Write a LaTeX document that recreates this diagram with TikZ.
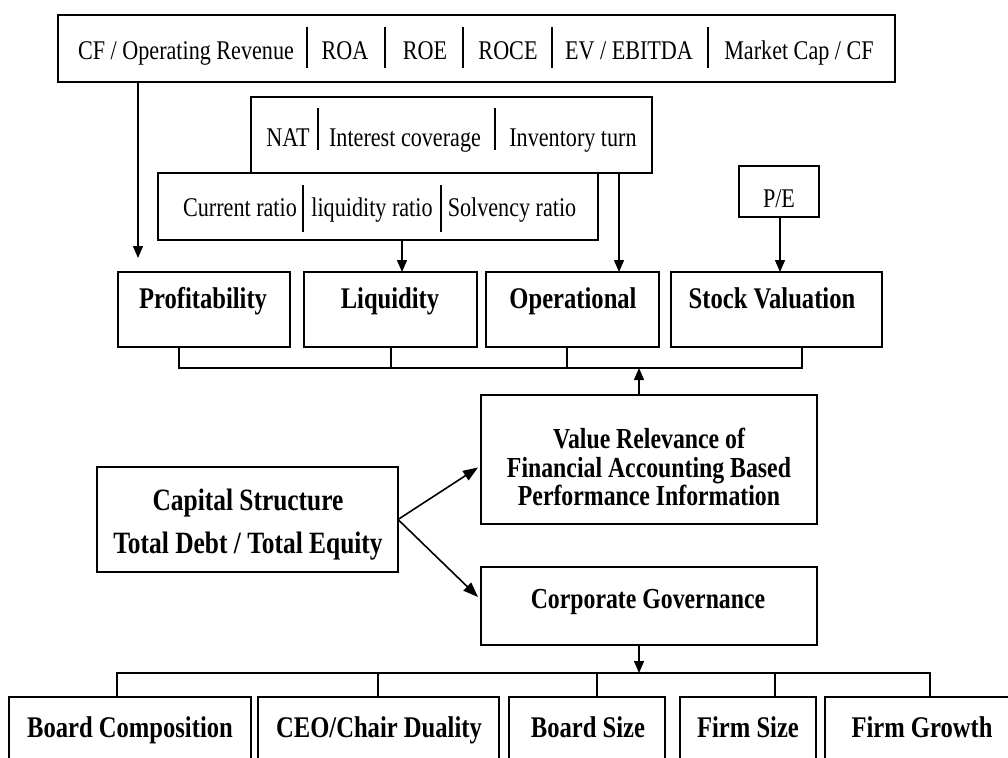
\documentclass[tikz,border=0pt]{standalone}
\usepackage{fontspec}
\setmainfont{Liberation Serif}[FakeStretch=0.82]
\usetikzlibrary{arrows.meta,fit}
\begin{document}
\begin{tikzpicture}[x=1pt,y=-1pt,
  box/.style={draw,line width=1.6pt,inner sep=0pt,outer sep=0pt},
  rtxt/.style={inner sep=0pt,anchor=base,font=\fontsize{27}{29}\selectfont},
  btxt/.style={inner sep=0pt,anchor=base,font=\fontsize{30}{30}\selectfont\bfseries},
  ctxt/.style={inner sep=0pt,anchor=base,font=\fontsize{31}{31}\selectfont\bfseries},
  sepline/.style={line width=1.3pt},
  conn/.style={line width=1.4pt},
  arr/.style={conn,-{Triangle[length=12pt,width=10pt]}},
  bigarr/.style={line width=1.6pt,-{Triangle[length=15pt,width=11pt]}}]
\useasboundingbox (0,0) rectangle (1008,757);
\clip (0,0) rectangle (1008,757);

% ---- top box
\node[box,fit={(58,15)(895,82)}] (top) {};
\node[rtxt] (t1) at (186,60) {CF / Operating Revenue};
\node[rtxt] (t2) at (345,60) {ROA};
\node[rtxt] (t3) at (425,60) {ROE};
\node[rtxt] (t4) at (508,60) {ROCE};
\node[rtxt] (t5) at (629,60) {EV / EBITDA};
\node[rtxt] (t6) at (799,60) {Market Cap / CF};
\foreach \x in {307,385,463,552,708} \draw[sepline] (\x,27) -- (\x,68);

% ---- NAT box
\node[box,fit={(251,97)(652,173)}] (nat) {};
\node[rtxt] (n1) at (288,146) {NAT};
\node[rtxt] (n2) at (405,146) {Interest coverage};
\node[rtxt] (n3) at (573,146) {Inventory turn};
\foreach \x in {318,495} \draw[sepline] (\x,108) -- (\x,150);

% ---- current ratio box
\node[box,fit={(158,173)(598,240)}] (cur) {};
\node[rtxt] (c1) at (240,216) {Current ratio};
\node[rtxt] (c2) at (372,216) {liquidity ratio};
\node[rtxt] (c3) at (512,216) {Solvency ratio};
\foreach \x in {303,441} \draw[sepline] (\x,185) -- (\x,232);

% ---- P/E box
\node[box,fit={(739,166)(819,217)}] (pe) {};
\node[rtxt] (pet) at (779,207) {P/E};

% ---- row of categories
\node[box,fit={(118,272)(290,347)}] (prof) {};
\node[box,fit={(304,272)(477,347)}] (liq) {};
\node[box,fit={(486,272)(659,347)}] (oper) {};
\node[box,fit={(671,272)(882,347)}] (stock) {};
\node[btxt] (proft) at (203,308) {Profitability};
\node[btxt] (liqt) at (390,308) {Liquidity};
\node[btxt] (opert) at (573,308) {Operational};
\node[btxt] (stockt) at (772,308) {Stock Valuation};

% ---- arrows into the row
\coordinate (pa) at (138,258);
\coordinate (xl) at (402,0);
\coordinate (xo) at (619,0);
\coordinate (xs) at (780,0);
\draw[arr] (top.south -| pa) -- (pa);
\draw[arr] (cur.south -| xl) -- (liq.north -| xl);
\draw[arr] (nat.south -| xo) -- (oper.north -| xo);
\draw[arr] (pe.south -| xs) -- (stock.north -| xs);

% ---- bracket under the row
\coordinate (b1) at (179,368);
\coordinate (b2) at (391,368);
\coordinate (b3) at (567,368);
\coordinate (b4) at (802,368);
\coordinate (b5) at (639,368);
\draw[conn] (prof.south -| b1) -- (b1) -- (b4) -- (stock.south -| b4);
\draw[conn] (liq.south -| b2) -- (b2);
\draw[conn] (oper.south -| b3) -- (b3);

% ---- middle boxes
\node[box,fit={(481,395)(817,524)}] (vr) {};
\node[btxt,font=\fontsize{29}{29}\selectfont\bfseries] (vr1) at (649,448) {Value Relevance of};
\node[btxt,font=\fontsize{29}{29}\selectfont\bfseries] (vr2) at (649,477) {Financial Accounting Based};
\node[btxt,font=\fontsize{29}{29}\selectfont\bfseries] (vr3) at (649,505) {Performance Information};
\draw[arr] (vr.north -| b5) -- (b5);

\node[box,fit={(97,467)(398,572)}] (cap) {};
\node[ctxt] (cap1) at (248,510) {Capital Structure};
\node[ctxt] (cap2) at (248,553) {Total Debt / Total Equity};

\node[box,fit={(481,567)(817,645)}] (cg) {};
\node[btxt,font=\fontsize{29}{29}\selectfont\bfseries] (cgt) at (648,608) {Corporate Governance};

\draw[bigarr] (cap.east) -- ([xshift=-3pt,yshift=-8pt]vr.west);
\draw[bigarr] (cap.east) -- ([xshift=-3pt,yshift=9pt]cg.west);

% ---- bottom bracket and boxes
\coordinate (d1) at (117,673);
\coordinate (d2) at (378,673);
\coordinate (d3) at (597,673);
\coordinate (d4) at (775,673);
\coordinate (d5) at (930,673);
\coordinate (d0) at (639,673);
\draw[arr] (cg.south -| d0) -- (d0);

\node[box,fit={(9,697)(251,775)}] (bc) {};
\node[box,fit={(258,697)(499,775)}] (ceo) {};
\node[box,fit={(509,697)(665,775)}] (bs) {};
\node[box,fit={(680,697)(816,775)}] (fs) {};
\node[box,fit={(825,697)(1030,775)}] (fg) {};
\node[btxt] (bct) at (130,737) {Board Composition};
\node[btxt] (ceot) at (379,737) {CEO/Chair Duality};
\node[btxt] (bst) at (588,737) {Board Size};
\node[btxt] (fst) at (748,737) {Firm Size};
\node[btxt] (fgt) at (922,737) {Firm Growth};

\draw[conn] (bc.north -| d1) -- (d1) -- (d5) -- (fg.north -| d5);
\draw[conn] (ceo.north -| d2) -- (d2);
\draw[conn] (bs.north -| d3) -- (d3);
\draw[conn] (fs.north -| d4) -- (d4);
\end{tikzpicture}
\end{document}
